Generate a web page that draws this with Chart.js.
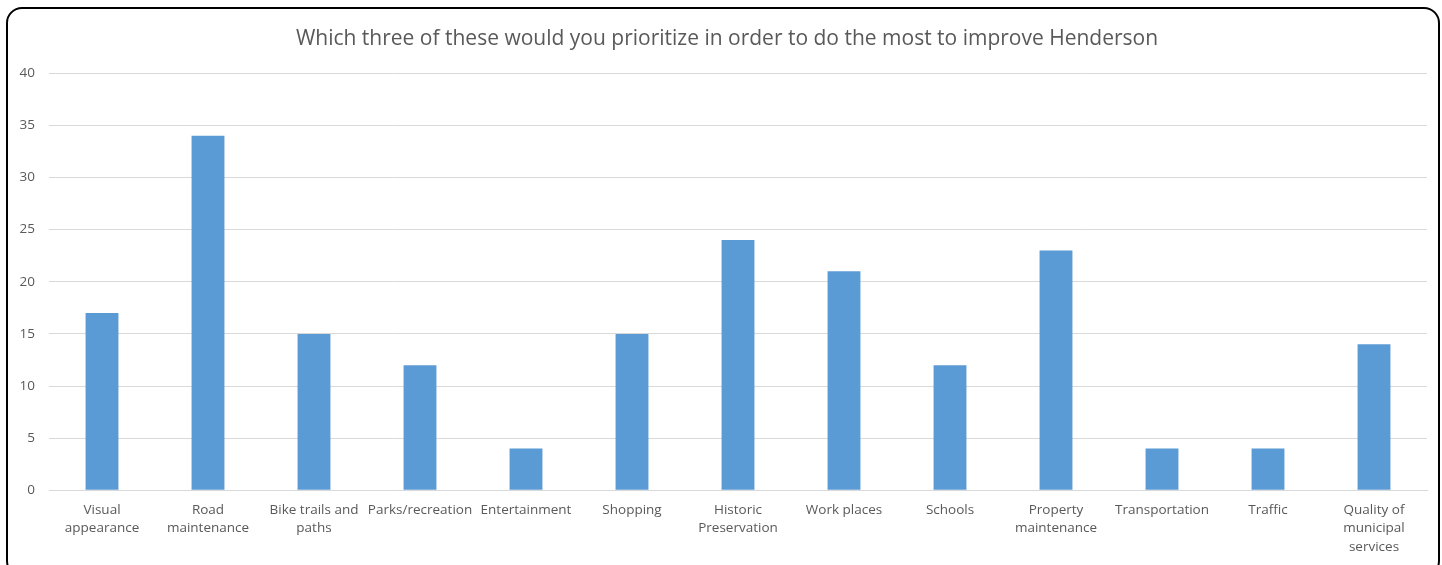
<!DOCTYPE html>
<html>
<head>
<meta charset="utf-8">
<script src="https://cdn.jsdelivr.net/npm/chart.js@4/dist/chart.umd.min.js"></script>
<style>
  html, body { margin: 0; padding: 0; background: #fff; overflow: hidden; }
  #wrap { position: relative; width: 1442px; height: 565px; }
  #frame {
    position: absolute; left: 6px; top: 7px; width: 1434px; height: 570px;
    border: 2px solid #000; border-radius: 16px; box-sizing: border-box;
    pointer-events: none;
  }
  canvas { position: absolute; left: 0; top: 0; }
</style>
</head>
<body>
<div id="wrap">
  <canvas id="barChart" width="1442" height="565"></canvas>
  <div id="frame"></div>
</div>
<script>
// chart data
const categories = [
    ["Visual", "appearance"],
    ["Road", "maintenance"],
    ["Bike trails and", "paths"],
    "Parks/recreation",
    "Entertainment",
    "Shopping",
    ["Historic", "Preservation"],
    "Work places",
    "Schools",
    ["Property", "maintenance"],
    "Transportation",
    "Traffic",
    ["Quality of", "municipal", "services"]
];
const responses = [17, 34, 15, 12, 4, 15, 24, 21, 12, 23, 4, 4, 14];
const yTicks = [0, 5, 10, 15, 20, 25, 30, 35, 40];

const textColor = "#595959";

// centre the title over the plot area rather than the whole canvas
const titleOverPlot = {
    id: "titleOverPlot",
    afterLayout(chart){
        if(chart.titleBlock){
            chart.titleBlock.left = chart.chartArea.left - 22;
            chart.titleBlock.right = chart.chartArea.right;
        }
    }
};

document.addEventListener("DOMContentLoaded", () => {
    const ctx = document.getElementById("barChart").getContext("2d");
    new Chart(ctx, {
        type: "bar",
        data: {
            labels: categories,
            datasets: [{
                label: "Responses",
                data: responses,
                backgroundColor: "#5B9BD5",
                barPercentage: 0.62,
                categoryPercentage: 0.5
            }]
        },
        plugins: [titleOverPlot],
        options: {
            responsive: false,
            animation: false,
            layout: { padding: { left: 10, right: 15, top: 26, bottom: 6 } },
            plugins: {
                legend: { display: false },
                tooltip: { enabled: false },
                title: {
                    display: true,
                    text: "Which three of these would you prioritize in order to do the most to improve Henderson",
                    color: textColor,
                    font: { family: "'Open Sans', sans-serif", size: 21, weight: "normal" },
                    padding: { top: 0, bottom: 22 }
                }
            },
            scales: {
                x: {
                    grid: { display: false },
                    border: { color: "#d9d9d9" },
                    ticks: {
                        color: textColor,
                        font: { family: "'Open Sans', sans-serif", size: 13.5, lineHeight: 1.4 },
                        maxRotation: 0,
                        autoSkip: false,
                        padding: 2
                    }
                },
                y: {
                    min: 0,
                    max: 40,
                    afterBuildTicks: (axis) => { axis.ticks = yTicks.map(v => ({ value: v })); },
                    afterFit: (axis) => { axis.width = 39; },
                    grid: { color: "#d9d9d9", drawTicks: false },
                    border: { display: false },
                    ticks: {
                        color: textColor,
                        font: { family: "'Open Sans', sans-serif", size: 13.5 },
                        padding: 14
                    }
                }
            }
        }
    });
});
</script>
</body>
</html>
